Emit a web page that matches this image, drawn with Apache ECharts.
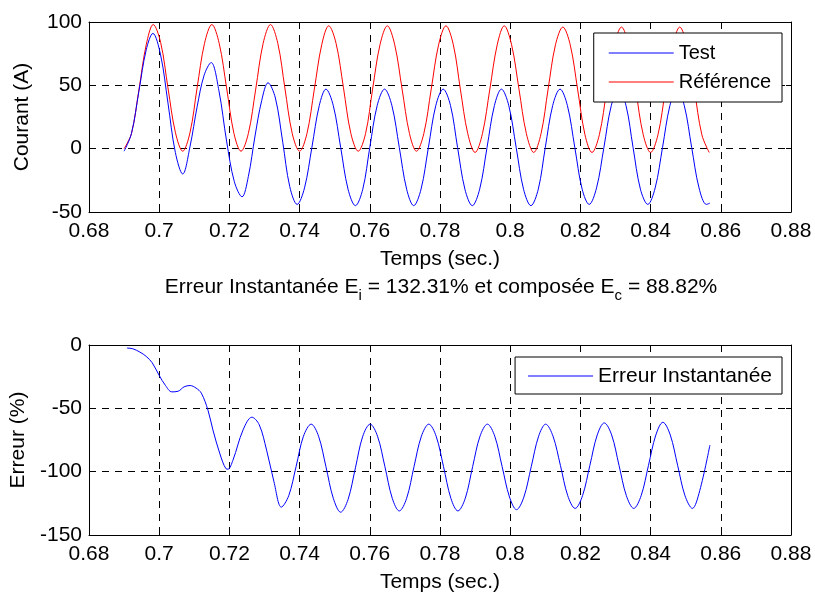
<!DOCTYPE html>
<html>
<head>
<meta charset="utf-8">
<script src="https://cdn.jsdelivr.net/npm/echarts@6/dist/echarts.min.js"></script>
<style>html,body{margin:0;padding:0;background:#fff;}#c{width:815px;height:595px;}</style>
</head>
<body>
<div id="c"></div>
<script>
// X tick values (s)
var xTicks = [0.68, 0.70, 0.72, 0.74, 0.76, 0.78, 0.80, 0.82, 0.84, 0.86, 0.88];
var yTicksTop = [-50, 0, 50, 100];
var yTicksBottom = [-150, -100, -50, 0];

// Référence (red) current
var tRef = [0.6900,0.6921,0.6942,0.6963,0.6983,0.7004,0.7025,0.7046,0.7067,0.7088,0.7108,0.7129,0.7150,0.7171,0.7192,0.7213,
0.7233,0.7254,0.7275,0.7296,0.7317,0.7338,0.7358,0.7379,0.7400,0.7421,0.7442,0.7463,0.7483,0.7504,0.7525,0.7546,
0.7567,0.7588,0.7608,0.7629,0.7650,0.7671,0.7692,0.7713,0.7733,0.7754,0.7775,0.7796,0.7817,0.7838,0.7858,0.7879,
0.7900,0.7921,0.7942,0.7963,0.7983,0.8004,0.8025,0.8046,0.8067,0.8088,0.8108,0.8129,0.8150,0.8171,0.8192,0.8213,
0.8233,0.8254,0.8275,0.8296,0.8317,0.8338,0.8358,0.8379,0.8400,0.8421,0.8442,0.8463,0.8483,0.8504,0.8525,0.8546,0.8567];
var ref = [0,12,46,82,98,84,48,13,-2,13,48,83,98,83,48,12,
-2,12,47,83,98,83,48,12,-2,12,47,82,97,83,48,12,
-2,12,47,82,97,82,47,12,-2,12,47,82,97,82,47,12,
-3,12,47,82,97,82,47,12,-3,12,47,82,96,82,47,11,
-3,11,46,81,96,81,46,11,-3,11,46,81,96,81,46,11,-3];

// Test (blue) current
var tTest = [0.6900,0.6921,0.6942,0.6963,0.6982,0.7004,0.7025,0.7046,0.7067,0.7088,0.7108,0.7128,0.7148,0.7170,0.7192,0.7214,
0.7236,0.7254,0.7273,0.7292,0.7310,0.7331,0.7352,0.7372,0.7393,0.7414,0.7435,0.7456,0.7475,0.7496,0.7517,0.7538,
0.7559,0.7580,0.7600,0.7621,0.7642,0.7663,0.7684,0.7705,0.7725,0.7746,0.7767,0.7788,0.7809,0.7830,0.7850,0.7871,
0.7892,0.7913,0.7934,0.7955,0.7975,0.7996,0.8017,0.8038,0.8059,0.8080,0.8100,0.8121,0.8142,0.8163,0.8184,0.8205,
0.8225,0.8246,0.8267,0.8288,0.8309,0.8330,0.8350,0.8371,0.8392,0.8413,0.8434,0.8455,0.8475,0.8496,0.8517,0.8538,0.8559,0.8569];
var test = [-2,12,45,78,91,74,36,-3,-20,2,33,58,68,46,6,-26,
-38,-22,10,38,52,40,5,-30,-44,-31,1,34,47,34,1,-32,
-45,-32,1,34,47,34,1,-32,-45,-32,1,34,47,34,1,-32,
-45,-32,1,34,47,34,1,-32,-45,-32,1,34,47,34,1,-32,
-44,-31,1,34,47,34,1,-32,-44,-31,1,34,47,34,1,-31,-44,-43];

// Erreur instantanée (%)
var tErr = [0.6908,0.6925,0.6945,0.6963,0.6980,0.7000,0.7018,0.7036,0.7054,0.7071,0.7088,0.7105,0.7120,0.7139,0.7153,0.7173,
0.7190,0.7196,0.7210,0.7239,0.7264,0.7285,0.7306,0.7327,0.7348,0.7369,0.7390,0.7411,0.7433,0.7454,0.7475,0.7496,
0.7517,0.7538,0.7559,0.7580,0.7601,0.7622,0.7643,0.7664,0.7684,0.7705,0.7726,0.7747,0.7768,0.7789,0.7810,0.7831,
0.7851,0.7872,0.7893,0.7914,0.7935,0.7956,0.7977,0.7998,0.8018,0.8039,0.8060,0.8081,0.8101,0.8122,0.8143,0.8164,
0.8185,0.8206,0.8227,0.8248,0.8268,0.8289,0.8310,0.8331,0.8352,0.8373,0.8394,0.8415,0.8435,0.8456,0.8477,0.8498,
0.8519,0.8540,0.8569];
var err = [-2.4,-3,-5.6,-9,-14,-24,-32,-37,-36.5,-33,-32,-34,-38,-51.5,-67,-86,
-97.6,-98,-91,-67,-57,-63,-83,-108,-128,-119,-96,-72,-62.5,-72,-96,-121,
-132,-122,-97,-72,-62.5,-72,-96,-121,-131,-121,-96,-72,-62.5,-72,-96,-121,
-131,-121,-96,-72,-62.5,-72,-96,-120,-130,-120,-96,-72,-62.5,-72,-95,-119,
-129,-119,-95,-71,-61.5,-71,-95,-119,-129,-119,-95,-71,-61,-71,-95,-119,
-129,-115,-79];

var FONT = 'Liberation Sans';
var FS = 21;
var GRID_LEFT = 89, GRID_W = 702;

function pairs(t, v) { return t.map(function (x, i) { return [x, v[i]]; }); }

function xAxisMain(gi) {
  return {
    type: 'value', gridIndex: gi, position: 'bottom',
    min: xTicks[0], max: xTicks[xTicks.length - 1], interval: 0.02,
    name: 'Temps (sec.)', nameLocation: 'middle', nameGap: 37,
    nameTextStyle: { fontFamily: FONT, fontSize: FS, color: '#000' },
    axisLine: { show: true, onZero: false, lineStyle: { color: '#000', width: 1 } },
    axisTick: { show: true, inside: true, length: 5, lineStyle: { color: '#000' } },
    axisLabel: { fontFamily: FONT, fontSize: FS, color: '#000', margin: 9,
      formatter: function (v) { return String(+v.toFixed(2)); } },
    splitLine: { show: true, lineStyle: { color: '#000', type: [7, 6], width: 1 } }
  };
}
function xAxisTop(gi) {
  return {
    type: 'value', gridIndex: gi, position: 'top',
    min: xTicks[0], max: xTicks[xTicks.length - 1], interval: 0.02,
    axisLine: { show: true, onZero: false, lineStyle: { color: '#000', width: 1 } },
    axisTick: { show: true, inside: true, length: 5, lineStyle: { color: '#000' } },
    axisLabel: { show: false }, splitLine: { show: false }
  };
}
function yAxisMain(gi, ticks, name, gap) {
  return {
    type: 'value', gridIndex: gi, position: 'left',
    min: ticks[0], max: ticks[ticks.length - 1], interval: 50,
    name: name, nameLocation: 'middle', nameGap: gap,
    nameTextStyle: { fontFamily: FONT, fontSize: FS, color: '#000' },
    axisLine: { show: true, onZero: false, lineStyle: { color: '#000', width: 1 } },
    axisTick: { show: true, inside: true, length: 5, lineStyle: { color: '#000' } },
    axisLabel: { fontFamily: FONT, fontSize: FS, color: '#000', margin: 7 },
    splitLine: { show: true, lineStyle: { color: '#000', type: [7, 6], width: 1 } }
  };
}
function yAxisRight(gi, ticks) {
  return {
    type: 'value', gridIndex: gi, position: 'right',
    min: ticks[0], max: ticks[ticks.length - 1], interval: 50,
    axisLine: { show: true, onZero: false, lineStyle: { color: '#000', width: 1 } },
    axisTick: { show: true, inside: true, length: 5, lineStyle: { color: '#000' } },
    axisLabel: { show: false }, splitLine: { show: false }
  };
}

var chart = echarts.init(document.getElementById('c'), null, { renderer: 'canvas' });
chart.setOption({
  backgroundColor: '#fff',
  animation: false,
  grid: [
    { left: GRID_LEFT, width: GRID_W, top: 22, height: 190 },
    { left: GRID_LEFT, width: GRID_W, top: 345, height: 190 }
  ],
  xAxis: [xAxisMain(0), xAxisTop(0), xAxisMain(1), xAxisTop(1)],
  yAxis: [yAxisMain(0, yTicksTop, 'Courant (A)', 56), yAxisRight(0, yTicksTop),
          yAxisMain(1, yTicksBottom, 'Erreur (%)', 60), yAxisRight(1, yTicksBottom)],
  legend: [
    { data: ['Test', 'Référence'], orient: 'vertical', right: 33, top: 33,
      icon: 'rect', itemWidth: 65, itemHeight: 1,
      backgroundColor: '#fff', borderColor: '#000', borderWidth: 1, borderRadius: 0,
      padding: [10, 11, 10, 15], itemGap: 9,
      textStyle: { fontFamily: FONT, fontSize: 20, color: '#000' } },
    { data: ['Erreur Instantanée'], orient: 'vertical', right: 33, top: 357,
      icon: 'rect', itemWidth: 65, itemHeight: 1,
      backgroundColor: '#fff', borderColor: '#000', borderWidth: 1, borderRadius: 0,
      padding: [8.5, 10, 7.5, 13],
      textStyle: { fontFamily: FONT, fontSize: 21, color: '#000' } }
  ],
  graphic: [{
    type: 'text', x: 441, y: 287, z: 100,
    style: {
      text: 'Erreur Instantanée E{sub|i} = 132.31% et composée E{sub|c} = 88.82%',
      align: 'center', verticalAlign: 'middle',
      fontFamily: FONT, fontSize: FS, fill: '#000',
      rich: {
        sub: { fontFamily: FONT, fontSize: 15, verticalAlign: 'bottom', lineHeight: 15, fill: '#000' }
      },
      lineHeight: 32
    }
  }],
  series: [
    { name: 'Test', type: 'line', xAxisIndex: 0, yAxisIndex: 0, data: pairs(tTest, test),
      smooth: 0.35, symbol: 'none', lineStyle: { color: '#0000ff', width: 1 }, itemStyle: { color: '#0000ff' }, z: 3 },
    { name: 'Référence', type: 'line', xAxisIndex: 0, yAxisIndex: 0, data: pairs(tRef, ref),
      smooth: 0.35, symbol: 'none', lineStyle: { color: '#ff0000', width: 1 }, itemStyle: { color: '#ff0000' }, z: 2 },
    { name: 'Erreur Instantanée', type: 'line', xAxisIndex: 2, yAxisIndex: 2, data: pairs(tErr, err),
      smooth: 0.35, symbol: 'none', lineStyle: { color: '#0000ff', width: 1 }, itemStyle: { color: '#0000ff' } }
  ]
});
</script>
</body>
</html>
